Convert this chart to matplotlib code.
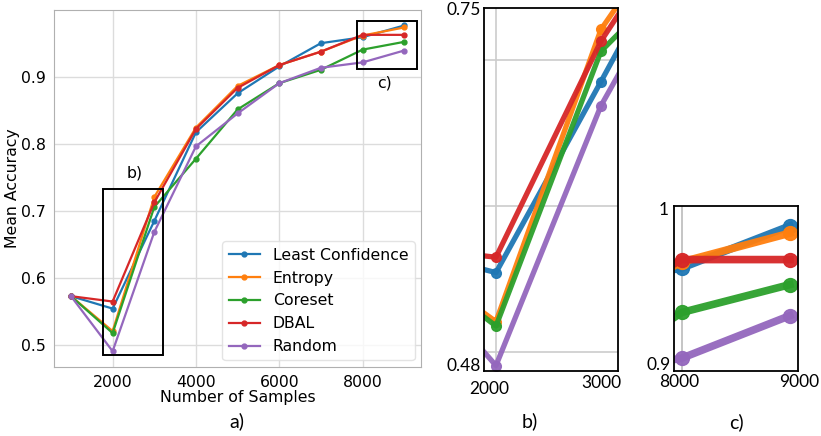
import matplotlib.pyplot as plt
import matplotlib.patches as mpatches

W, H = 821, 436

samples = [1000, 2000, 3000, 4000, 5000, 6000, 7000, 8000, 9000]
least_conf = [0.573, 0.5545, 0.685, 0.817, 0.875, 0.915, 0.9496, 0.9585, 0.976]
entropy = [0.573, 0.521, 0.7206, 0.824, 0.886, 0.917, 0.937, 0.961, 0.973]
coreset = [0.573, 0.518, 0.7057, 0.7776, 0.851, 0.890, 0.910, 0.940, 0.9516]
dbal = [0.573, 0.565, 0.7126, 0.822, 0.883, 0.917, 0.937, 0.962, 0.962]
random_ = [0.573, 0.491, 0.6685, 0.796, 0.845, 0.890, 0.913, 0.921, 0.9387]

SERIES = [
    ("Least Confidence", least_conf, "#1f77b4"),
    ("Entropy", entropy, "#ff7f0e"),
    ("Coreset", coreset, "#2ca02c"),
    ("DBAL", dbal, "#d62728"),
    ("Random", random_, "#9467bd"),
]

# zoom boxes drawn on main plot: (x0, x1, y0, y1)
BOX_B = (1780, 3200, 0.486, 0.733)
BOX_C = (7860, 9305, 0.911, 0.983)

GRID = "#dcdcdc"
SPINE = "#b0b0b0"
PANEL_FONT = "Lato"
FS = 11.3


def ax_at(fig, left, right, top, bottom):
    """Axes from pixel edges."""
    return fig.add_axes([left / W, 1 - bottom / H, (right - left) / W, (bottom - top) / H])


def ftext(fig, x, y, s, **kw):
    fig.text(x / W, 1 - y / H, s, **kw)


fig = plt.figure(figsize=(W / 100, H / 100), dpi=100)

# (a) main plot
ax = ax_at(fig, 54.3, 420.9, 10, 366.7)
for name, vals, c in SERIES:
    ax.plot(samples, vals, color=c, lw=1.6, marker="o", ms=3.5, label=name)
ax.set_xlim(600, 9400)
ax.set_ylim(0.468, 0.999)
ax.set_xticks([2000, 4000, 6000, 8000])
ax.set_yticks([0.5, 0.6, 0.7, 0.8, 0.9])
ax.grid(True, color=GRID, lw=1)
ax.set_axisbelow(True)
ax.tick_params(length=0, labelsize=FS, pad=6)
for s in ax.spines.values():
    s.set_color(SPINE)
ax.set_xlabel("Number of Samples", fontsize=FS)
ax.set_ylabel("Mean Accuracy", fontsize=FS)
ax.xaxis.set_label_coords(0.5, -0.066)
ax.yaxis.set_label_coords(-0.113, 0.5)
ax.yaxis.label.set_va("center")
leg = ax.legend(loc="lower right", fontsize=FS, frameon=True, borderaxespad=0.4)
leg.get_frame().set_edgecolor("#dddddd")

for (x0, x1, y0, y1) in (BOX_B, BOX_C):
    ax.add_patch(mpatches.Rectangle((x0, y0), x1 - x0, y1 - y0, fill=False,
                                    ec="black", lw=1.4, zorder=5))
ax.text(2522, 0.757, "b)", fontsize=FS, ha="center", va="center")
ax.text(8536, 0.890, "c)", fontsize=FS, ha="center", va="center")

# (b) zoom on 2000-3000
axb = ax_at(fig, 484, 618, 8.3, 370.7)
for name, vals, c in SERIES:
    axb.plot(samples, vals, color=c, lw=3.8, marker="o", ms=7, alpha=0.95)
axb.set_xlim(1886, 3162)
axb.set_ylim(0.4875, 0.735)
axb.set_xticks([2000])
axb.set_yticks([0.5, 0.6, 0.7])
axb.tick_params(length=0, labelbottom=False, labelleft=False)
axb.grid(True, color="#cccccc", lw=1.2)
axb.set_axisbelow(True)
for s in axb.spines.values():
    s.set_color("black")
    s.set_linewidth(1.3)

# (c) zoom on 8000-9000
axc = ax_at(fig, 674, 798.3, 205.7, 370.7)
for name, vals, c in SERIES:
    axc.plot(samples, vals, color=c, lw=5.5, marker="o", ms=10, alpha=0.95)
axc.set_xlim(7929, 9077)
axc.set_ylim(0.9158, 0.9844)
axc.set_xticks([8000])
axc.set_yticks([])
axc.tick_params(length=0, labelbottom=False, labelleft=False)
axc.grid(True, axis="x", color="#bbbbbb", lw=1.2)
axc.set_axisbelow(True)
for s in axc.spines.values():
    s.set_color("black")
    s.set_linewidth(1.3)

# hand-placed labels of the zoom panels
lab = dict(fontsize=12.5, family=PANEL_FONT)
ftext(fig, 481, 10, "0.75", ha="right", va="center", **lab)
ftext(fig, 481, 366, "0.48", ha="right", va="center", **lab)
ftext(fig, 489, 389, "2000", ha="center", va="center", **lab)
ftext(fig, 601, 383, "3000", ha="center", va="center", **lab)
ftext(fig, 669, 210, "1", ha="right", va="center", **lab)
ftext(fig, 671, 365, "0.9", ha="right", va="center", **lab)
ftext(fig, 679, 382, "8000", ha="center", va="center", **lab)
ftext(fig, 799, 382, "9000", ha="center", va="center", **lab)

sub = dict(fontsize=14, family=PANEL_FONT, ha="center", va="center")
ftext(fig, 237, 421, "a)", **sub)
ftext(fig, 530, 421, "b)", **sub)
ftext(fig, 736, 422, "c)", **sub)

fig.savefig("out.png", dpi=100)
